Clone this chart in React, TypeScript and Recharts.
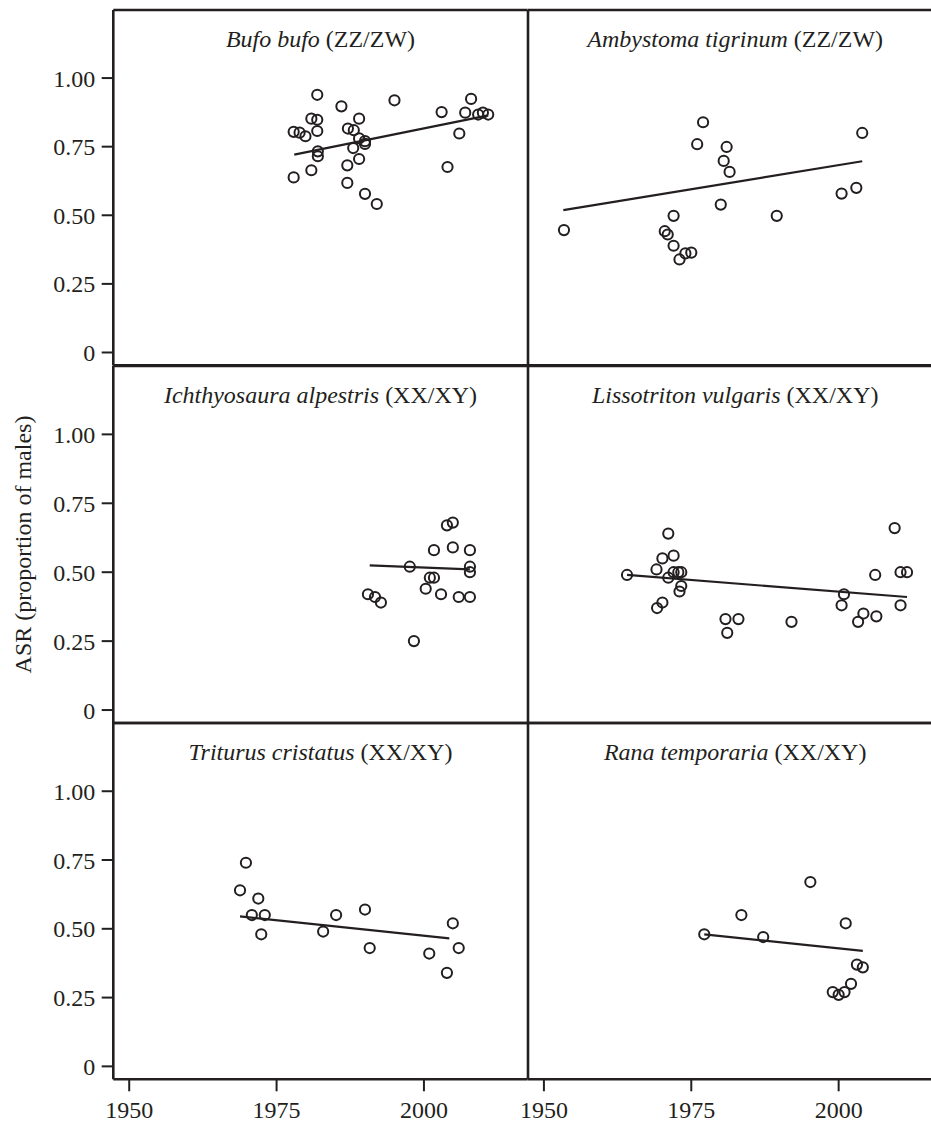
import React from 'react';
import { ComposedChart, Scatter, XAxis, YAxis, ReferenceLine } from 'recharts';

const FONT = "'Liberation Serif', 'Times New Roman', Times, serif";
const INK = '#231f20';

const X_DOMAIN = [1947.3, 2017.6];
const Y_DOMAIN = [-0.047, 1.248];
const X_TICKS = [1950, 1975, 2000];
const Y_TICKS = [0, 0.25, 0.5, 0.75, 1];
const Y_TICK_LABELS = ['0', '0.25', '0.50', '0.75', '1.00'];
const Y_TITLE = 'ASR (proportion of males)';

// Bufo bufo (ZZ/ZW)
const bufoYears = [1977.9, 1977.9, 1978.9, 1979.9, 1980.9, 1980.9, 1981.9, 1981.9, 1981.9, 1982.0, 1982.0, 1986.0, 1987.1, 1988.1, 1989.0, 1987.0, 1987.0, 1988.0, 1989.0, 1989.0, 1990.0, 1990.0, 1990.0, 1992.0, 1995.0, 2003.0, 2004.0, 2006.0, 2007.0, 2008.0, 2009.2, 2010.0, 2010.9];
const bufoASR = [0.638, 0.804, 0.801, 0.788, 0.852, 0.664, 0.848, 0.807, 0.939, 0.733, 0.715, 0.897, 0.816, 0.81, 0.852, 0.682, 0.618, 0.745, 0.705, 0.78, 0.77, 0.76, 0.578, 0.541, 0.919, 0.876, 0.676, 0.798, 0.874, 0.924, 0.867, 0.874, 0.867];
const bufoFitYears = [1978.0, 2010.9];
const bufoFitASR = [0.721, 0.864];

// Ambystoma tigrinum (ZZ/ZW)
const ambyYears = [1953.4, 1970.5, 1971.0, 1972.0, 1972.0, 1973.0, 1974.0, 1975.0, 1976.0, 1977.0, 1980.0, 1980.5, 1981.0, 1981.5, 1989.5, 2000.5, 2003.0, 2004.0];
const ambyASR = [0.446, 0.442, 0.43, 0.498, 0.389, 0.339, 0.361, 0.364, 0.759, 0.839, 0.539, 0.698, 0.749, 0.658, 0.498, 0.579, 0.6, 0.8];
const ambyFitYears = [1953.3, 2004.0];
const ambyFitASR = [0.519, 0.697];

// Ichthyosaura alpestris (XX/XY)
const ichYears = [1990.5, 1991.7, 1992.7, 1997.6, 2001.7, 2001.7, 1998.3, 2000.3, 2001.0, 2002.9, 2003.9, 2004.9, 2004.9, 2005.9, 2007.8, 2007.8, 2007.8, 2007.8];
const ichASR = [0.42, 0.41, 0.39, 0.52, 0.58, 0.48, 0.25, 0.44, 0.48, 0.42, 0.67, 0.68, 0.59, 0.41, 0.58, 0.52, 0.5, 0.41];
const ichFitYears = [1990.8, 2007.8];
const ichFitASR = [0.525, 0.51];

// Lissotriton vulgaris (XX/XY)
const lisYears = [1964.1, 1969.1, 1969.2, 1970.1, 1970.1, 1971.1, 1971.1, 1972.0, 1972.0, 1972.8, 1973.0, 1973.3, 1973.3, 1980.8, 1981.1, 1983.0, 1992.0, 2000.5, 2000.9, 2003.3, 2004.2, 2006.2, 2006.4, 2009.5, 2010.5, 2010.5, 2011.6];
const lisASR = [0.49, 0.51, 0.37, 0.55, 0.39, 0.64, 0.48, 0.56, 0.5, 0.5, 0.43, 0.45, 0.5, 0.33, 0.28, 0.33, 0.32, 0.38, 0.42, 0.32, 0.35, 0.49, 0.34, 0.66, 0.5, 0.38, 0.5];
const lisFitYears = [1964.1, 2011.6];
const lisFitASR = [0.49, 0.41];

// Triturus cristatus (XX/XY)
const triYears = [1968.8, 1969.8, 1970.8, 1971.9, 1972.4, 1973.0, 1982.9, 1985.1, 1990.0, 1990.8, 2000.9, 2003.9, 2004.9, 2005.9];
const triASR = [0.64, 0.74, 0.55, 0.61, 0.48, 0.55, 0.49, 0.55, 0.57, 0.43, 0.41, 0.34, 0.52, 0.43];
const triFitYears = [1968.8, 2004.3];
const triFitASR = [0.545, 0.465];

// Rana temporaria (XX/XY)
const ranaYears = [1977.2, 1983.5, 1987.2, 1995.2, 1999.0, 2000.0, 2001.0, 2001.2, 2002.1, 2003.1, 2004.1];
const ranaASR = [0.48, 0.55, 0.47, 0.67, 0.27, 0.26, 0.27, 0.52, 0.3, 0.37, 0.36];
const ranaFitYears = [1977.2, 2004.1];
const ranaFitASR = [0.48, 0.42];

const PLOT_LEFT = [113.3, 527.7];
const PLOT_W = 414.4;
const PLOT_TOP = [10.3, 365.7, 722.7];
const PLOT_BOTTOM = [365.7, 722.7, 1079];
const FONT_SIZE = 24;

type PanelProps = {
  row: number;
  col: number;
  years: number[];
  asr: number[];
  fitYears: number[];
  fitAsr: number[];
  name: string;
  system: string;
  yTitle?: string;
};

const Circle = (p: any) => (
  <circle cx={p.cx} cy={p.cy} r={5.1} fill="none" stroke={INK} strokeWidth={2} />
);
const NoShape = () => <g />;

function Panel({ row, col, years, asr, fitYears, fitAsr, name, system, yTitle }: PanelProps) {
  const pts = years.map((x, i) => ({ x, y: asr[i] }));
  const fit = fitYears.map((x, i) => ({ x, y: fitAsr[i] }));
  const yAxisW = col === 0 ? PLOT_LEFT[0] : 10;
  const left = PLOT_LEFT[col] - yAxisW;
  const mTop = 6;
  const xAxisH = row === 2 ? 1122 - PLOT_BOTTOM[2] : 6;
  const top = PLOT_TOP[row] - mTop;
  const plotH = PLOT_BOTTOM[row] - PLOT_TOP[row];
  const height = mTop + plotH + xAxisH;
  const width = yAxisW + PLOT_W;

  const titleLabel = (props: any) => {
    const vb = props.viewBox || {};
    return (
      <text
        x={vb.x + vb.width / 2}
        y={vb.y + 37.4}
        textAnchor="middle"
        fill={INK}
        fontFamily={FONT}
        fontSize={FONT_SIZE}
      >
        <tspan fontStyle="italic">{name}</tspan>
        <tspan> {system}</tspan>
      </text>
    );
  };

  const yTitleLabel = (props: any) => {
    const vb = props.viewBox || {};
    const cx = 31;
    const cy = vb.y + vb.height / 2;
    return (
      <text
        x={cx}
        y={cy}
        transform={`rotate(-90, ${cx}, ${cy})`}
        textAnchor="middle"
        fill={INK}
        fontFamily={FONT}
        fontSize={FONT_SIZE}
      >
        {yTitle}
      </text>
    );
  };

  return (
    <div style={{ position: 'absolute', left, top, width, height }}>
      <ComposedChart width={width} height={height} margin={{ top: mTop, right: 0, bottom: 0, left: 0 }}>
        <XAxis
          type="number"
          dataKey="x"
          domain={X_DOMAIN}
          ticks={X_TICKS}
          interval={0}
          allowDataOverflow
          height={xAxisH}
          axisLine={{ stroke: INK, strokeWidth: 2.6 }}
          tickLine={row === 2 ? { stroke: INK, strokeWidth: 2 } : false}
          tick={row === 2 ? { fill: INK, fontSize: FONT_SIZE, fontFamily: FONT } : false}
          tickSize={12}
          tickMargin={10}
        />
        <YAxis
          type="number"
          dataKey="y"
          domain={Y_DOMAIN}
          ticks={Y_TICKS}
          interval={0}
          allowDataOverflow
          width={yAxisW}
          axisLine={{ stroke: INK, strokeWidth: 2.6 }}
          tickLine={col === 0 ? { stroke: INK, strokeWidth: 2 } : false}
          tick={col === 0 ? { fill: INK, fontSize: FONT_SIZE, fontFamily: FONT } : false}
          tickFormatter={(v: number) => Y_TICK_LABELS[Y_TICKS.indexOf(v)] ?? String(v)}
          tickSize={11.6}
          tickMargin={6.5}
          label={yTitle ? yTitleLabel : undefined}
        />
        <ReferenceLine y={Y_DOMAIN[1]} stroke={INK} strokeWidth={2.6} label={titleLabel} />
        <Scatter data={fit} line={{ stroke: INK, strokeWidth: 2.2 }} shape={NoShape} isAnimationActive={false} />
        <Scatter data={pts} shape={Circle} isAnimationActive={false} />
      </ComposedChart>
    </div>
  );
}

export default function App() {
  return (
    <div
      style={{
        position: 'fixed',
        left: 0,
        top: 0,
        width: 931,
        height: 1122,
        overflow: 'hidden',
        background: '#fff',
      }}
    >
      <Panel row={0} col={0} years={bufoYears} asr={bufoASR} fitYears={bufoFitYears} fitAsr={bufoFitASR} name="Bufo bufo" system="(ZZ/ZW)" />
      <Panel row={0} col={1} years={ambyYears} asr={ambyASR} fitYears={ambyFitYears} fitAsr={ambyFitASR} name="Ambystoma tigrinum" system="(ZZ/ZW)" />
      <Panel row={1} col={0} years={ichYears} asr={ichASR} fitYears={ichFitYears} fitAsr={ichFitASR} name="Ichthyosaura alpestris" system="(XX/XY)" yTitle={Y_TITLE} />
      <Panel row={1} col={1} years={lisYears} asr={lisASR} fitYears={lisFitYears} fitAsr={lisFitASR} name="Lissotriton vulgaris" system="(XX/XY)" />
      <Panel row={2} col={0} years={triYears} asr={triASR} fitYears={triFitYears} fitAsr={triFitASR} name="Triturus cristatus" system="(XX/XY)" />
      <Panel row={2} col={1} years={ranaYears} asr={ranaASR} fitYears={ranaFitYears} fitAsr={ranaFitASR} name="Rana temporaria" system="(XX/XY)" />
    </div>
  );
}
